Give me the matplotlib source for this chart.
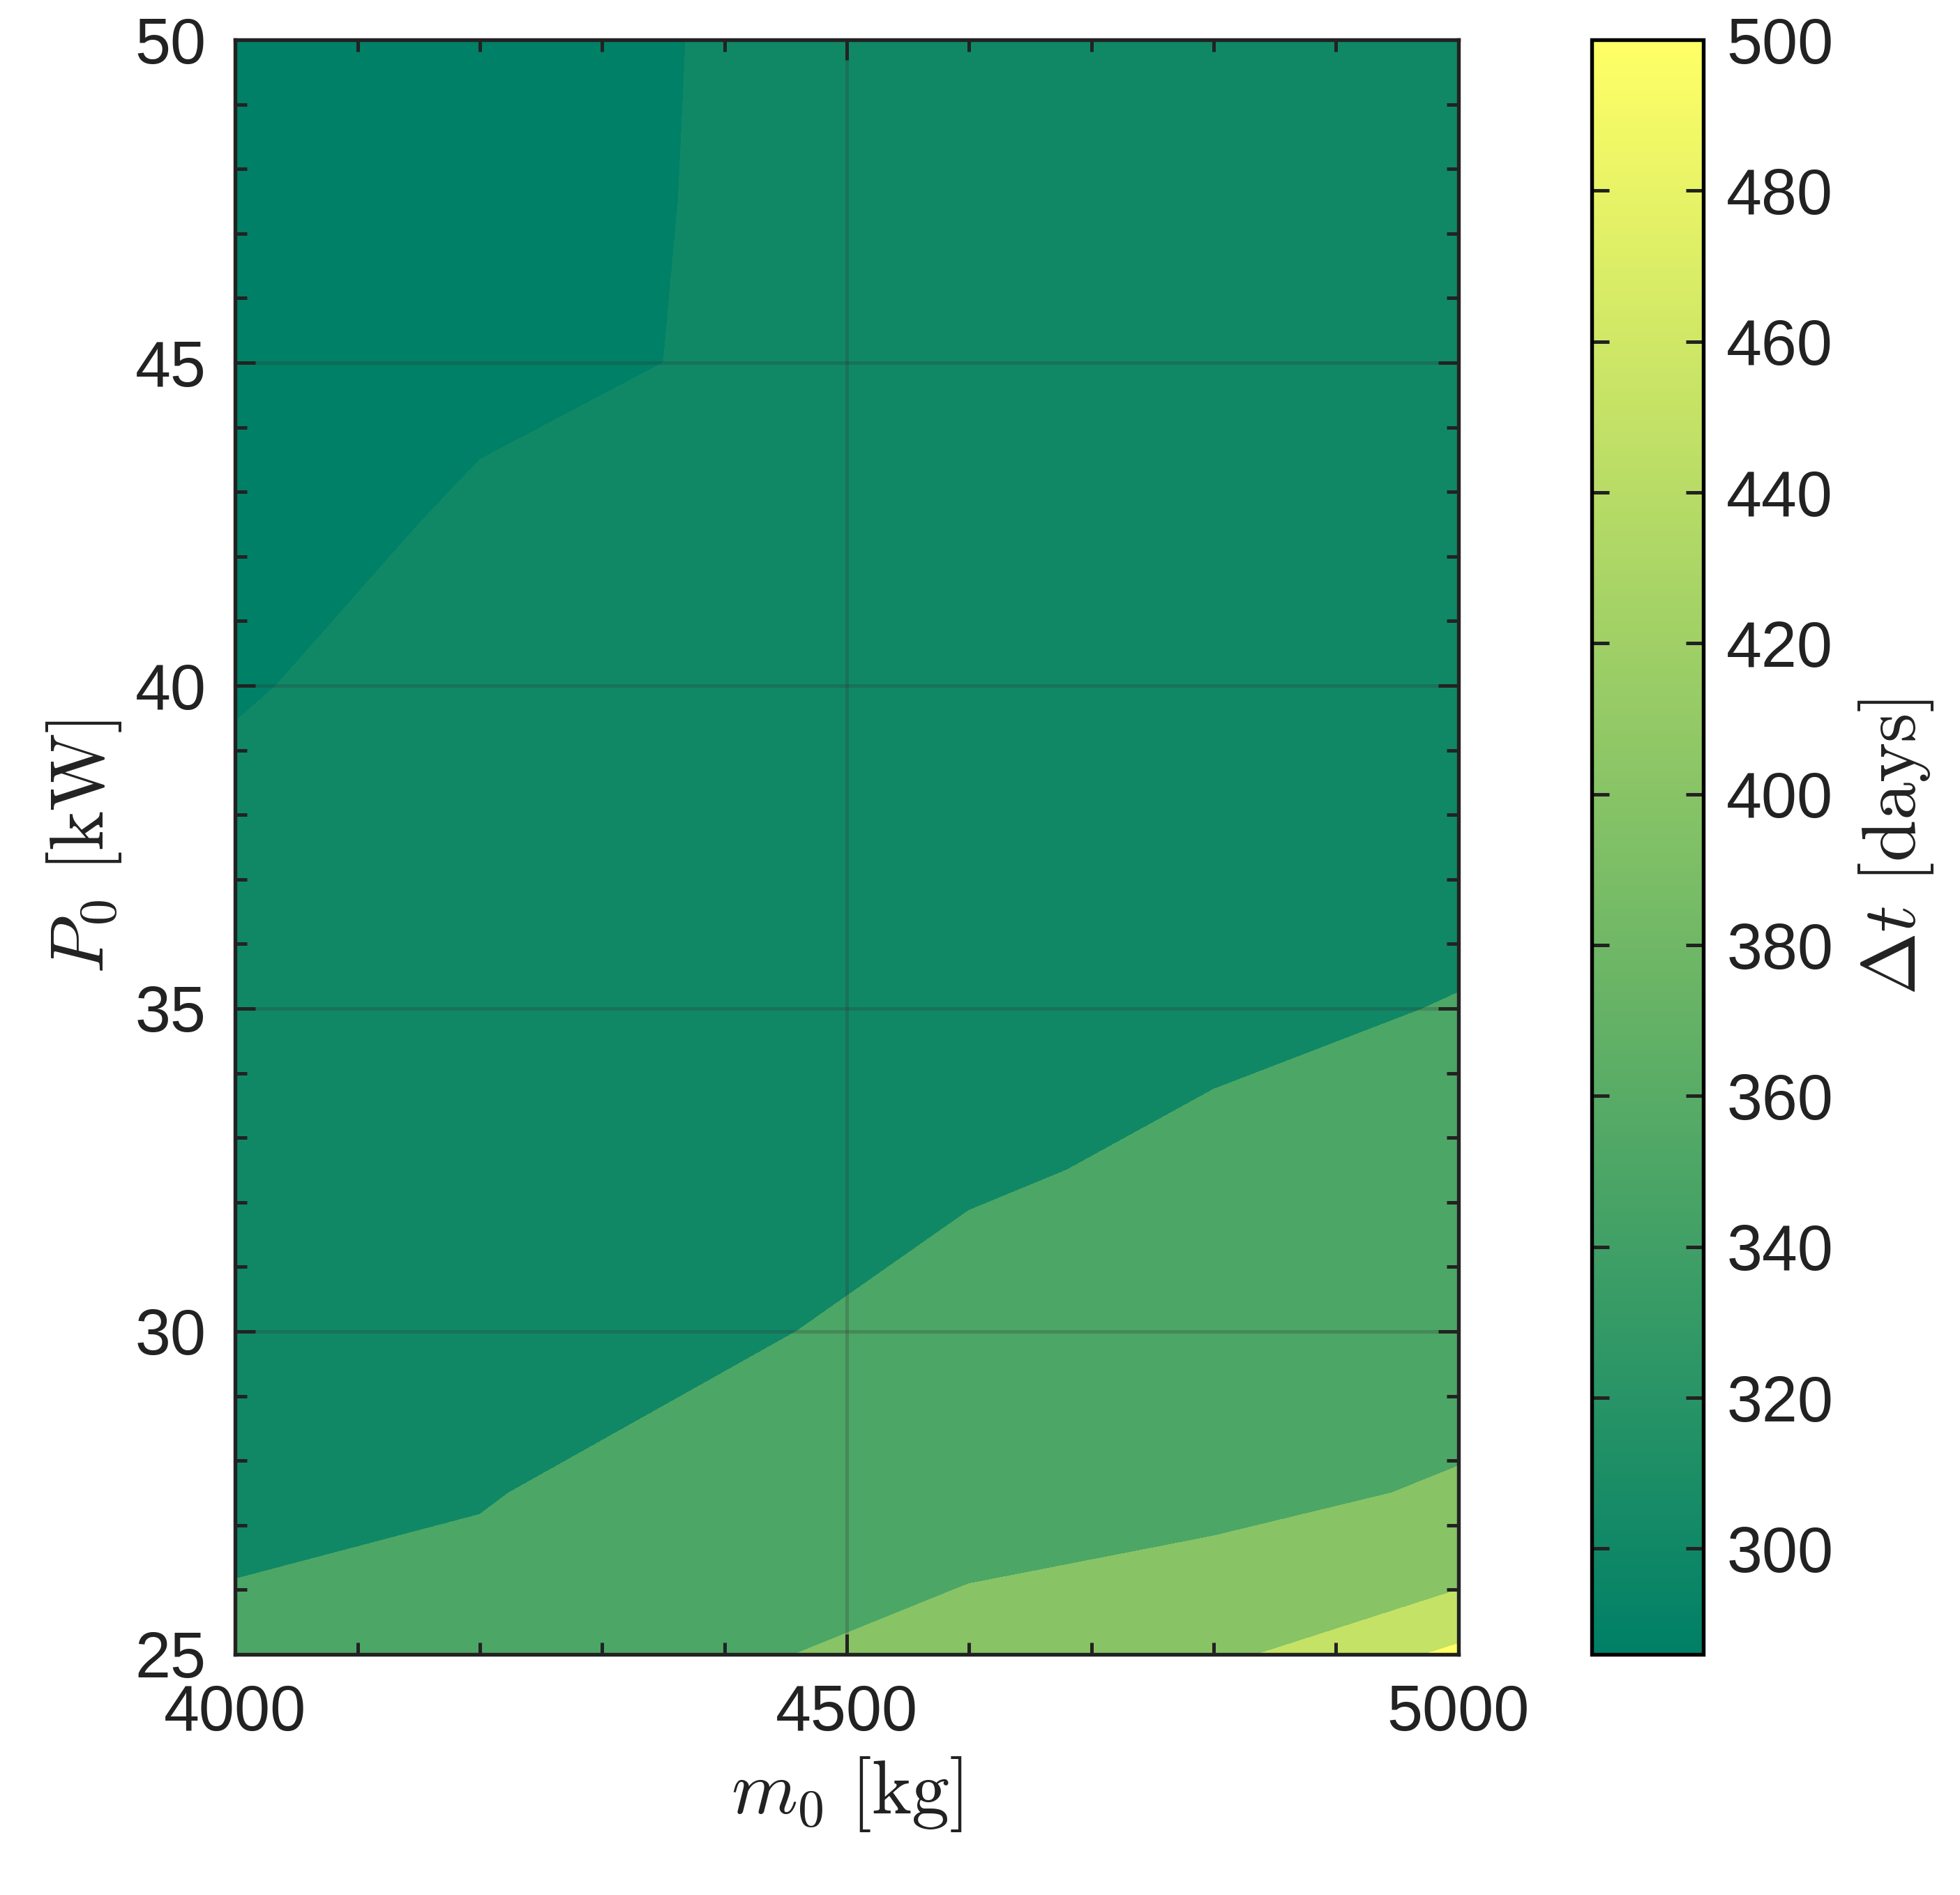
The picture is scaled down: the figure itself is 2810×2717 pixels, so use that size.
import matplotlib
matplotlib.use('Agg')
import matplotlib.pyplot as plt
import numpy as np
from matplotlib.colors import Normalize
from matplotlib.cm import ScalarMappable

plt.rcParams['font.family'] = ['Liberation Sans', 'DejaVu Sans']
plt.rcParams['mathtext.fontset'] = 'cm'

# grid of initial mass [kg] and power [kW]
m0 = [4000, 4200, 4400, 4600, 4800, 5000]
P0 = [25, 26, 27.5, 30, 32.5, 35, 37.5, 40, 42.5, 45, 47.5, 50]
# transfer time [days], rows = P0, columns = m0
dt = np.array([
    [360, 365, 396, 410, 437, 510],
    [351, 357, 385, 401, 410, 450],
    [342, 348, 365, 385, 392, 403],
    [335, 340, 345, 362, 375, 385],
    [326, 333, 334, 346, 356, 368],
    [317, 325, 324, 335, 344, 351],
    [307, 318, 316, 326, 334, 341],
    [298, 310, 310, 318, 326, 332],
    [294, 302, 305, 312, 319, 325],
    [291, 297, 301, 307, 313, 319],
    [289, 294, 301.4, 304, 309, 314],
    [287, 292, 301.5, 302, 306, 310],
])
levels = [280, 300, 350, 400, 450, 500, 520]
cmin, cmax = 286, 500

fig = plt.figure(figsize=(2810/300, 2717/300), dpi=300)
ax = fig.add_axes([0.12, 0.127, 0.624, 0.852])
cax = fig.add_axes([0.812, 0.127, 0.057, 0.852])

norm = Normalize(cmin, cmax)
cmap = plt.get_cmap('summer')
band_cols = [cmap(norm(max(l, cmin))) for l in levels[:-1]]
ax.contourf(m0, P0, dt, levels=levels, colors=band_cols)

ax.set_xlim(4000, 5000)
ax.set_ylim(25, 50)
ax.set_xticks([4000, 4500, 5000])
ax.set_xticks(np.arange(4000, 5001, 100), minor=True)
ax.set_yticks(np.arange(25, 51, 5))
ax.set_yticks(np.arange(25, 51, 1), minor=True)
ax.grid(True, color='#333333', alpha=0.25, linewidth=1.2)
ax.tick_params(which='both', direction='in', top=True, right=True, labelsize=22,
               colors='#222222', width=1.2)
ax.tick_params(which='major', length=7, pad=10)
ax.tick_params(which='minor', length=4)
for s in ax.spines.values():
    s.set_linewidth(1.3)
    s.set_color('#222222')
ax.set_xlabel(r'$m_0\ [\mathrm{kg}]$', fontsize=26, color='#222222', labelpad=4)
ax.set_ylabel(r'$P_0\ [\mathrm{kW}]$', fontsize=26, color='#222222', labelpad=4)

cb = fig.colorbar(ScalarMappable(norm=norm, cmap=cmap), cax=cax)
cb.set_ticks(np.arange(300, 501, 20))
cb.ax.tick_params(direction='in', left=True, right=True, labelsize=22,
                  colors='#222222', length=6, width=1.2, pad=8)
cb.outline.set_linewidth(1.3)
cb.set_label(r'$\Delta t\ [\mathrm{days}]$', fontsize=26, color='#222222', labelpad=8)

fig.savefig('out.png', dpi=300)
